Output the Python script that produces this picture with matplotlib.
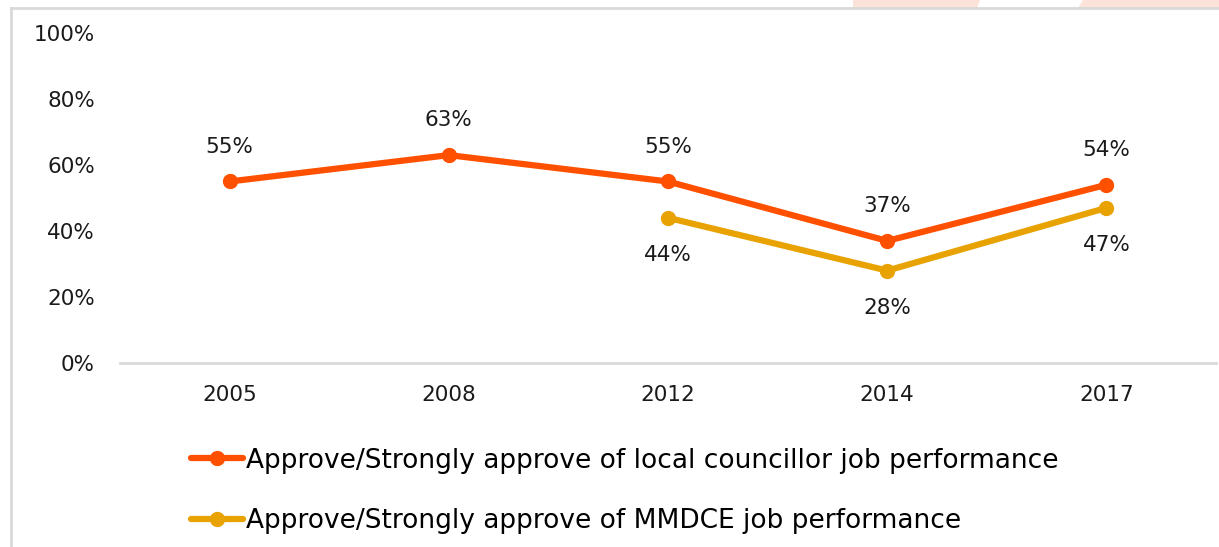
import matplotlib.pyplot as plt
from matplotlib.lines import Line2D
from matplotlib.patches import Polygon

years = ["2005", "2008", "2012", "2014", "2017"]
councillor = [55, 63, 55, 37, 54]
mmdce_years = ["2012", "2014", "2017"]
mmdce = [44, 28, 47]
yticks = [0, 20, 40, 60, 80, 100]

label_councillor = "Approve/Strongly approve of local councillor job performance"
label_mmdce = "Approve/Strongly approve of MMDCE job performance"

ORANGE = "#FF5000"
GOLD = "#E8A202"
GRID = "#D9D9D9"

plt.rcParams["font.family"] = ["DejaVu Sans"]

W, H = 1219, 547
fig = plt.figure(figsize=(W / 100, H / 100), dpi=100)

# slide background bits peeking above the chart box
for pts in ([(853, 0), (980, 0), (977, 8), (853, 8)],
            [(1083, 0), (1219, 0), (1219, 8), (1078, 8)]):
    fig.add_artist(Polygon([(x / W, 1 - y / H) for x, y in pts], closed=True,
                           transform=fig.transFigure, facecolor="#FCE3DA",
                           edgecolor="none"))

# chart box border (left and top edges only are visible)
fig.add_artist(Line2D([11 / W, 11 / W], [0, 1 - 8 / H], transform=fig.transFigure,
                      color=GRID, lw=2))
fig.add_artist(Line2D([11 / W, 1], [1 - 8 / H, 1 - 8 / H], transform=fig.transFigure,
                      color=GRID, lw=2))

ax = fig.add_axes([120 / W, (H - 363) / H, (1216 - 120) / W, (363 - 33) / H])
ax.set_xlim(-0.5, len(years) - 0.5)
ax.set_ylim(0, 100)
for s in ax.spines.values():
    s.set_visible(False)
ax.axhline(0, color=GRID, lw=2, clip_on=False)

x = list(range(len(years)))
xm = [years.index(y) for y in mmdce_years]

line_c, = ax.plot(x, councillor, color=ORANGE, lw=4.5, marker="o", ms=10,
                  solid_capstyle="round", label=label_councillor, clip_on=False, zorder=3)
line_m, = ax.plot(xm, mmdce, color=GOLD, lw=4.5, marker="o", ms=10,
                  solid_capstyle="round", label=label_mmdce, clip_on=False, zorder=3)

for xi, v in zip(x, councillor):
    ax.annotate(f"{v}%", (xi, v), xytext=(0, 25), textcoords="offset points",
                ha="center", va="center", fontsize=15.5, color="#1a1a1a")
for xi, v in zip(xm, mmdce):
    ax.annotate(f"{v}%", (xi, v), xytext=(0, -27), textcoords="offset points",
                ha="center", va="center", fontsize=15.5, color="#1a1a1a")

ax.set_xticks(x)
ax.set_xticklabels(years)
ax.set_yticks(yticks)
ax.set_yticklabels([f"{t}%" for t in yticks])
ax.tick_params(axis="both", length=0, labelsize=15.5, colors="#1a1a1a")
ax.tick_params(axis="x", pad=16)
ax.tick_params(axis="y", pad=18)

fig.legend(handles=[line_c, line_m], loc="upper left",
           bbox_to_anchor=(180 / W, 1 - 437 / H), frameon=False,
           fontsize=19, handlelength=2.0, handletextpad=0.12,
           labelspacing=1.32, borderaxespad=0)

fig.savefig("out.png", dpi=100, facecolor="white")
